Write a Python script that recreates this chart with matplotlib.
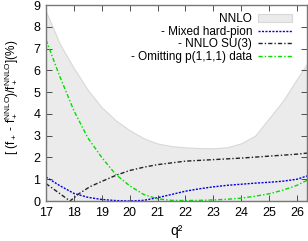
import numpy as np
import matplotlib.pyplot as plt

plt.rcParams['font.family'] = ['Liberation Sans', 'DejaVu Sans']
plt.rcParams['mathtext.fontset'] = 'custom'
plt.rcParams['mathtext.rm'] = 'Liberation Sans'
plt.rcParams['mathtext.it'] = 'Liberation Sans'

# values
q2 = [17.0, 17.5, 18.0, 18.5, 19.0, 19.5, 20.0, 20.5, 21.0, 21.5, 22.0, 22.5,
      23.0, 23.5, 24.0, 24.5, 25.0, 25.5, 26.0, 26.36]
nnlo_band = [8.7, 7.2, 6.1, 5.1, 4.3, 3.7, 3.25, 2.88, 2.64, 2.52, 2.46, 2.43,
             2.42, 2.47, 2.65, 3.0, 3.8, 4.6, 5.6, 6.3]
mixed = [1.1, 0.7, 0.35, 0.17, 0.07, 0.02, 0.0, 0.03, 0.15, 0.3, 0.45, 0.56,
         0.65, 0.72, 0.77, 0.82, 0.86, 0.91, 1.0, 1.15]
green = [7.4, 5.7, 4.15, 2.9, 2.0, 1.22, 0.7, 0.3, 0.1, 0.03, 0.02, 0.03,
         0.05, 0.08, 0.13, 0.22, 0.33, 0.5, 0.72, 0.95]
su3_q2 = [17.0, 17.86, 18.2, 18.58, 19.0, 19.53, 20.0, 20.5, 21.0, 22.0, 23.0,
          24.0, 25.0, 26.0, 26.36]
su3 = [0.8, 0.0, 0.35, 0.66, 0.9, 1.19, 1.4, 1.55, 1.67, 1.83, 1.9, 1.97,
       2.06, 2.15, 2.2]

fig = plt.figure(figsize=(3.08, 2.41), dpi=100)
ax = fig.add_axes([46/308, 40/241, 261/308, 196/241])

ax.fill_between(q2, 0, nnlo_band, facecolor='#ebebeb', edgecolor='#d8d8d8',
                lw=0.8, label='NNLO')
ax.plot(q2, mixed, color='#0000e0', ls=(0, (1.5, 1)), lw=1.0,
        label='- Mixed hard-pion')
ax.plot(su3_q2, su3, color='#222222', ls=(0, (3, 1.5, 1, 1.5)), lw=1.0,
        label='- NNLO SU(3)')
ax.plot(q2, green, color='#00dd00', ls=(0, (3, 1.5, 1, 1.5)), lw=1.0,
        label='- Omitting p(1,1,1) data')

ax.set_xlim(17, 26.36)
ax.set_ylim(0, 9)
ax.set_xticks(range(17, 27))
ax.set_yticks(range(0, 10))
ax.tick_params(direction='in', top=True, right=True, length=4, width=0.6,
               labelsize=9, pad=4, colors='#333333', labelcolor='black')
for s in ax.spines.values():
    s.set_color('#777777')
    s.set_linewidth(1.0)

ax.set_xlabel('q²', fontsize=10)
ax.xaxis.set_label_coords(0.5, -0.115)
ax.set_ylabel(r'[ (f$_+$ - f$_+^{\rm NNLO}$)/f$_+^{\rm NNLO}$](%)', fontsize=8.5)
ax.yaxis.set_label_coords(-0.1, 0.53)

ax.legend(loc='upper right', markerfirst=False, frameon=False, fontsize=8.5,
          handlelength=2.9, handletextpad=0.5, labelspacing=0.05,
          borderaxespad=0.3, bbox_to_anchor=(0.975, 1.0))

fig.savefig('out.png', dpi=100)
